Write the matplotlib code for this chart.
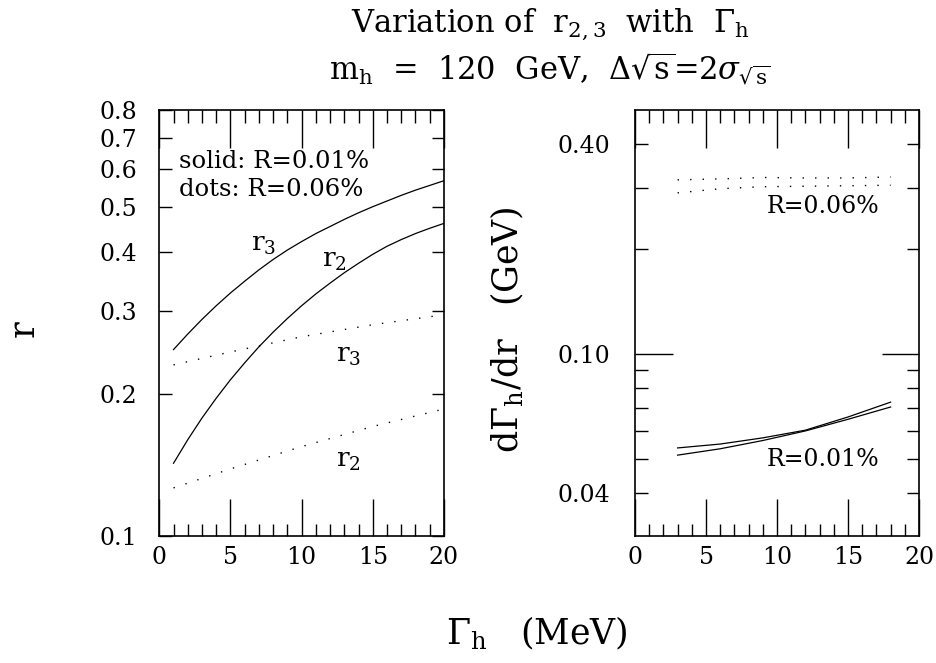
import matplotlib
matplotlib.use("Agg")
import matplotlib.pyplot as plt
from matplotlib.ticker import FixedLocator, NullFormatter, FixedFormatter

plt.rcParams["font.family"] = ["DejaVu Serif"]
plt.rcParams["mathtext.fontset"] = "dejavuserif"

# left panel: r vs Gamma_h
gam = [1, 2, 3, 4, 5, 6, 7, 8, 9, 10, 11, 12, 13, 14, 15, 16, 17, 18, 19, 20]
r3_sol = [0.2489, 0.2685, 0.2884, 0.3083, 0.3281, 0.3475, 0.3673, 0.3864, 0.4046, 0.4217,
          0.4385, 0.4539, 0.4699, 0.4853, 0.5000, 0.5140, 0.5284, 0.5420, 0.5546, 0.5675]
r2_sol = [0.1429, 0.1603, 0.1782, 0.1963, 0.2148, 0.2333, 0.2523, 0.2710, 0.2897, 0.3083,
          0.3266, 0.3443, 0.3622, 0.3793, 0.3963, 0.4121, 0.4258, 0.4385, 0.4500, 0.4608]

g_dots = [1, 5, 10, 15, 20]
r3_dots = [0.231, 0.246, 0.265, 0.281, 0.295]
r2_dots = [0.1267, 0.139, 0.155, 0.171, 0.1862]

# right panel: dGamma/dr
g_right = [3, 6, 9, 12, 15, 18]
dg_06_a = [0.316, 0.318, 0.321, 0.320, 0.320, 0.322]
dg_06_b = [0.290, 0.298, 0.302, 0.303, 0.304, 0.305]
dg_01_a = [0.0538, 0.0552, 0.0575, 0.0605, 0.0660, 0.0728]
dg_01_b = [0.0513, 0.0535, 0.0565, 0.0602, 0.0650, 0.0705]

left_yticks = [0.1, 0.2, 0.3, 0.4, 0.5, 0.6, 0.7, 0.8]
right_yticks = [0.04, 0.10, 0.40]
right_yminor = [0.05, 0.06, 0.07, 0.08, 0.09, 0.2, 0.3]
xticks = [0, 5, 10, 15, 20]

fig = plt.figure(figsize=(9.37, 6.63), dpi=100)
ax1 = fig.add_axes([0.170, 0.191, 0.3038, 0.6425])
ax2 = fig.add_axes([0.6777, 0.191, 0.3031, 0.6425])

dot = (0, (1, 8))

ax1.plot(gam, r3_sol, color="black", lw=0.9)
ax1.plot(gam, r2_sol, color="black", lw=0.9)
ax1.plot(g_dots, r3_dots, color="black", lw=1.0, linestyle=dot)
ax1.plot(g_dots, r2_dots, color="black", lw=1.0, linestyle=dot)

ax2.plot(g_right, dg_06_a, color="black", lw=1.0, linestyle=dot)
ax2.plot(g_right, dg_06_b, color="black", lw=1.0, linestyle=dot)
ax2.plot(g_right, dg_01_a, color="black", lw=0.9)
ax2.plot(g_right, dg_01_b, color="black", lw=0.9)

for ax in (ax1, ax2):
    ax.set_yscale("log")
    ax.set_xlim(0, 20)
    ax.xaxis.set_major_locator(FixedLocator(xticks))
    ax.xaxis.set_minor_locator(FixedLocator(range(0, 21)))
    ax.tick_params(axis="both", which="both", direction="in", top=True, right=True,
                   width=1.0, labelsize=17)
    ax.tick_params(axis="x", which="major", length=27, pad=7)
    ax.tick_params(axis="x", which="minor", length=9)
    for s in ax.spines.values():
        s.set_linewidth(1.2)

ax1.set_ylim(0.1, 0.8)
ax1.yaxis.set_major_locator(FixedLocator(left_yticks))
ax1.yaxis.set_major_formatter(FixedFormatter([str(v) for v in left_yticks]))
ax1.yaxis.set_minor_locator(FixedLocator([]))
ax1.tick_params(axis="y", which="major", length=9, pad=16)

ax2.set_ylim(0.03, 0.5)
ax2.yaxis.set_major_locator(FixedLocator(right_yticks))
ax2.yaxis.set_major_formatter(FixedFormatter(["0.04", "0.10", "0.40"]))
ax2.yaxis.set_minor_locator(FixedLocator(right_yminor))
ax2.yaxis.set_minor_formatter(NullFormatter())
ax2.tick_params(axis="y", which="both", length=9, pad=18)
# long tick at 0.10
t = ax2.yaxis.get_major_ticks()[1]
t.tick1line.set_markersize(27)
t.tick2line.set_markersize(27)

# annotations
ax1.text(1.4, 0.624, "solid: R=0.01%", fontsize=17.5, va="center")
ax1.text(1.4, 0.543, "dots: R=0.06%", fontsize=17.5, va="center")
ax1.text(7.3, 0.415, r"$\mathrm{r}_3$", fontsize=19, ha="center", va="center")
ax1.text(12.3, 0.384, r"$\mathrm{r}_2$", fontsize=19, ha="center", va="center")
ax1.text(13.3, 0.2414, r"$\mathrm{r}_3$", fontsize=19, ha="center", va="center")
ax1.text(13.3, 0.1447, r"$\mathrm{r}_2$", fontsize=19, ha="center", va="center")

ax2.text(13.24, 0.2657, "R=0.06%", fontsize=17, ha="center", va="center")
ax2.text(13.24, 0.0498, "R=0.01%", fontsize=17, ha="center", va="center")

# titles and labels
fig.text(0.587, 0.963, r"Variation of  r$_{2,3}$  with  $\Gamma_\mathrm{h}$", fontsize=22,
         ha="center", va="center")
fig.text(0.587, 0.895, r"m$_\mathrm{h}$  =  120  GeV,  $\Delta\sqrt{\mathrm{s}}$=2$\sigma_{\sqrt{\mathrm{s}}}$",
         fontsize=22, ha="center", va="center")
fig.text(0.573, 0.045, r"$\Gamma_\mathrm{h}$   (MeV)", fontsize=25, ha="center", va="center")
fig.text(0.025, 0.505, "r", fontsize=25, ha="center", va="center", rotation=90)
fig.text(0.541, 0.503, r"d$\Gamma_\mathrm{h}$/dr   (GeV)", fontsize=25, ha="center",
         va="center", rotation=90)

fig.savefig("out.png", dpi=100)
